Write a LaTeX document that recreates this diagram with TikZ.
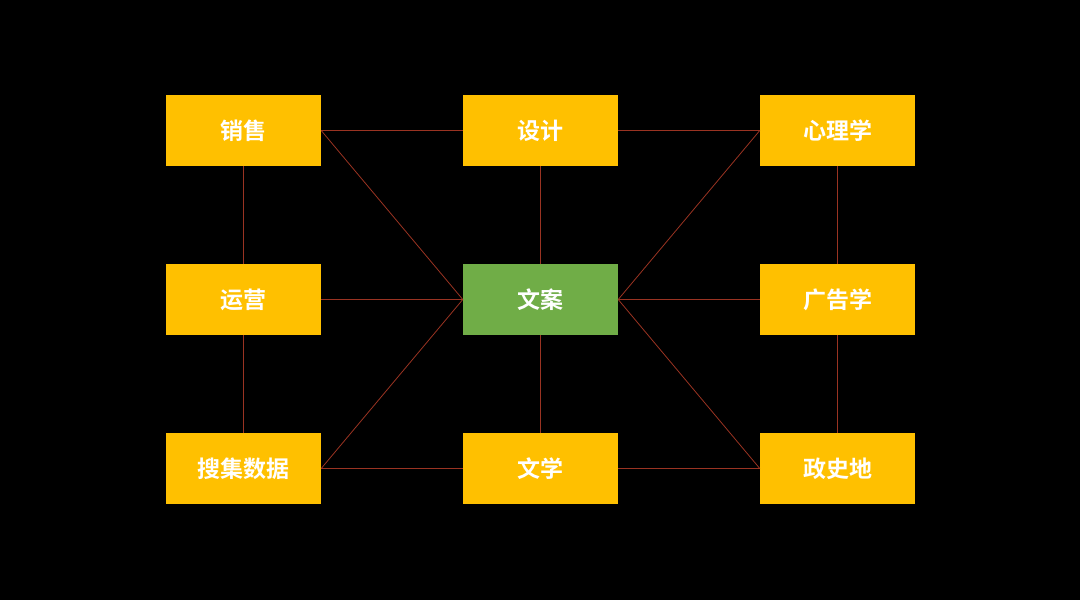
\documentclass[tikz,border=0pt]{standalone}
\usepackage{fontspec}
\newfontfamily\cjk{Noto Sans CJK SC}[BoldFont={Noto Sans CJK SC Bold}]
\definecolor{boxy}{HTML}{FFC000}
\definecolor{boxg}{HTML}{70AD47}
\definecolor{lnk}{HTML}{9A3322}
\begin{document}
\begin{tikzpicture}[x=1pt,y=-1pt,
  bx/.style={fill=boxy,minimum width=155pt,minimum height=71pt,inner sep=0pt,text=white,font=\cjk\bfseries\fontsize{23}{26}\selectfont},
  gx/.style={bx,fill=boxg},
  ln/.style={draw=lnk,line width=0.8pt}]
\fill[black] (0,0) rectangle (1080,600);
\useasboundingbox (0,0) rectangle (1080,600);
\node[bx] (xs) at (243.5,130.5) {销售};
\node[bx] (sj) at (540.5,130.5) {设计};
\node[bx] (xl) at (837.5,130.5) {心理学};
\node[bx] (yy) at (243.5,299.5) {运营};
\node[gx] (wa) at (540.5,299.5) {文案};
\node[bx] (gg) at (837.5,299.5) {广告学};
\node[bx] (ss) at (243.5,468.5) {搜集数据};
\node[bx] (wx) at (540.5,468.5) {文学};
\node[bx] (zs) at (837.5,468.5) {政史地};
\path[ln] (xs.east) -- (sj.west) (sj.east) -- (xl.west)
  (xs.south) -- (yy.north) (yy.south) -- (ss.north)
  (xl.south) -- (gg.north) (gg.south) -- (zs.north)
  (ss.east) -- (wx.west) (wx.east) -- (zs.west)
  (sj.south) -- (wa.north) (wa.south) -- (wx.north)
  (yy.east) -- (wa.west) (wa.east) -- (gg.west)
  (xs.east) -- (wa.west) (ss.east) -- (wa.west)
  (xl.west) -- (wa.east) (zs.west) -- (wa.east);
\end{tikzpicture}
\end{document}
